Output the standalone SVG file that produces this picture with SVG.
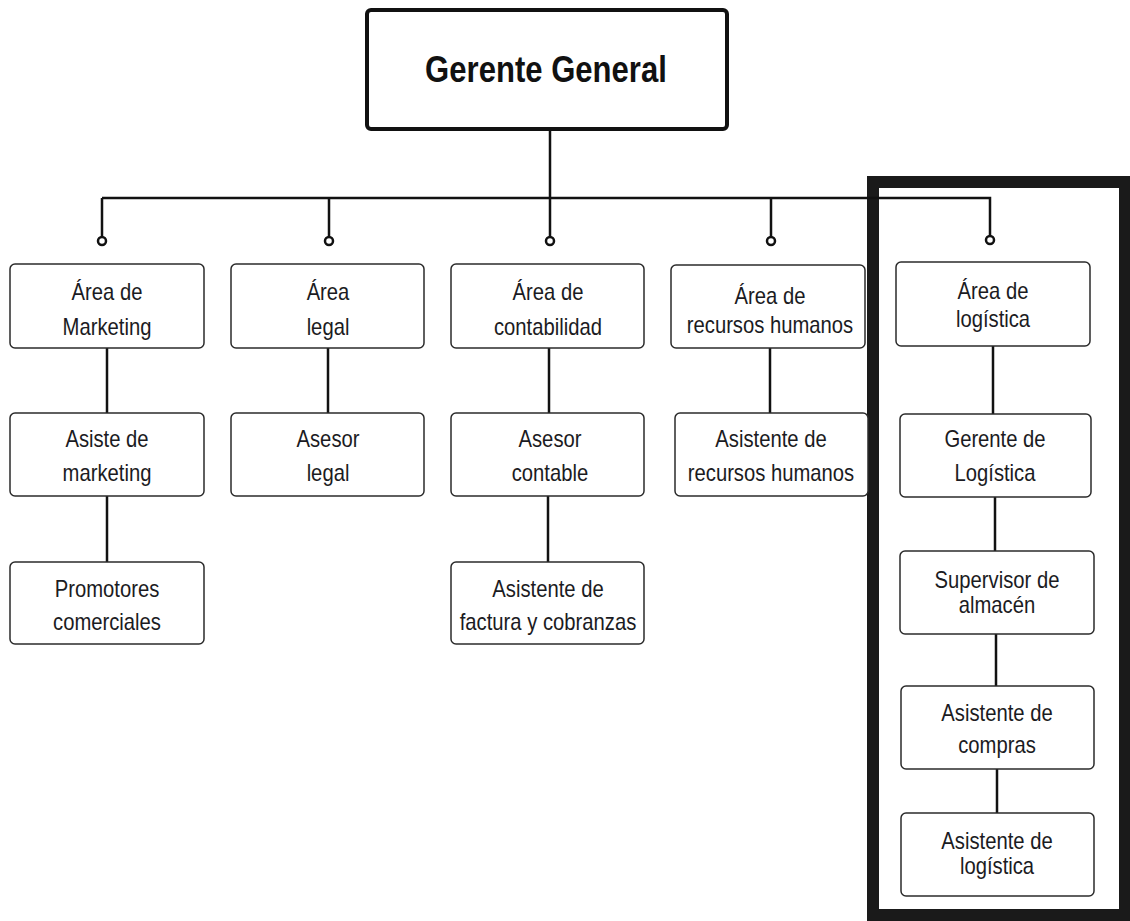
<svg xmlns="http://www.w3.org/2000/svg" width="1130" height="921" viewBox="0 0 1130 921">
<style>
.box{fill:#fff;stroke:#2b2b2b;stroke-width:1.5}
.top{fill:#fff;stroke:#111;stroke-width:4}
.ln{stroke:#111;stroke-width:2.5;fill:none}
.dot{fill:#fff;stroke:#111;stroke-width:2.5}
.t{font-family:"Liberation Sans",Arial,sans-serif;font-size:23px;fill:#1b1b22;text-anchor:middle}
.tt{font-family:"Liberation Sans",Arial,sans-serif;font-size:37px;font-weight:bold;fill:#111;text-anchor:middle}
</style>
<rect x="0" y="0" width="1130" height="921" fill="#fff"/>
<rect x="873" y="182" width="252" height="733" fill="none" stroke="#1a1a1a" stroke-width="12"/>
<g id="connectors">
<path class="ln" d="M550 129 V237 M102 198 H990 V237 M102 198 V237 M329 198 V237 M771 198 V237"/>
<path class="ln" d="M107 348 V413 M107 496 V562 M328 348 V413 M549 348 V413 M548 496 V562 M770 348 V413 M993 346 V414 M995 497 V551 M996 634 V686 M997 769 V813"/>
<circle class="dot" cx="102" cy="241" r="4"/>
<circle class="dot" cx="329" cy="241" r="4"/>
<circle class="dot" cx="550" cy="241" r="4"/>
<circle class="dot" cx="771" cy="241" r="4"/>
<circle class="dot" cx="990" cy="240" r="4"/>
</g>
<g id="gerente-general">
<rect class="top" x="367" y="10" width="360" height="119" rx="4"/>
<text class="tt" transform="matrix(0.84 0 0 1 546 0)" y="82">Gerente General</text>
</g>
<g id="area-marketing">
<rect class="box" x="10" y="264" width="194" height="84" rx="5"/>
<text class="t" transform="matrix(0.88 0 0 1 107 0)"><tspan x="0" y="300">Área de</tspan><tspan x="0" y="335">Marketing</tspan></text>
</g>
<g id="area-legal">
<rect class="box" x="231" y="264" width="193" height="84" rx="5"/>
<text class="t" transform="matrix(0.88 0 0 1 328 0)"><tspan x="0" y="300">Área</tspan><tspan x="0" y="335">legal</tspan></text>
</g>
<g id="area-contabilidad">
<rect class="box" x="451" y="264" width="193" height="84" rx="5"/>
<text class="t" transform="matrix(0.88 0 0 1 548 0)"><tspan x="0" y="300">Área de</tspan><tspan x="0" y="335">contabilidad</tspan></text>
</g>
<g id="area-rrhh">
<rect class="box" x="671" y="265" width="194" height="83" rx="5"/>
<text class="t" transform="matrix(0.88 0 0 1 770 0)"><tspan x="0" y="304">Área de</tspan><tspan x="0" y="333">recursos humanos</tspan></text>
</g>
<g id="area-logistica">
<rect class="box" x="896" y="262" width="194" height="84" rx="5"/>
<text class="t" transform="matrix(0.88 0 0 1 993 0)"><tspan x="0" y="299">Área de</tspan><tspan x="0" y="327">logística</tspan></text>
</g>
<g id="asiste-marketing">
<rect class="box" x="10" y="413" width="194" height="83" rx="5"/>
<text class="t" transform="matrix(0.88 0 0 1 107 0)"><tspan x="0" y="447">Asiste de</tspan><tspan x="0" y="481">marketing</tspan></text>
</g>
<g id="asesor-legal">
<rect class="box" x="231" y="413" width="193" height="83" rx="5"/>
<text class="t" transform="matrix(0.88 0 0 1 328 0)"><tspan x="0" y="447">Asesor</tspan><tspan x="0" y="481">legal</tspan></text>
</g>
<g id="asesor-contable">
<rect class="box" x="451" y="413" width="193" height="83" rx="5"/>
<text class="t" transform="matrix(0.88 0 0 1 550 0)"><tspan x="0" y="447">Asesor</tspan><tspan x="0" y="481">contable</tspan></text>
</g>
<g id="asistente-rrhh">
<rect class="box" x="675" y="413" width="193" height="83" rx="5"/>
<text class="t" transform="matrix(0.88 0 0 1 771 0)"><tspan x="0" y="447">Asistente de</tspan><tspan x="0" y="481">recursos humanos</tspan></text>
</g>
<g id="gerente-logistica">
<rect class="box" x="900" y="414" width="191" height="83" rx="5"/>
<text class="t" transform="matrix(0.88 0 0 1 995 0)"><tspan x="0" y="447">Gerente de</tspan><tspan x="0" y="481">Logística</tspan></text>
</g>
<g id="promotores">
<rect class="box" x="10" y="562" width="194" height="82" rx="5"/>
<text class="t" transform="matrix(0.88 0 0 1 107 0)"><tspan x="0" y="597">Promotores</tspan><tspan x="0" y="630">comerciales</tspan></text>
</g>
<g id="asistente-factura">
<rect class="box" x="451" y="562" width="193" height="82" rx="5"/>
<text class="t" transform="matrix(0.88 0 0 1 548 0)"><tspan x="0" y="597">Asistente de</tspan><tspan x="0" y="630">factura y cobranzas</tspan></text>
</g>
<g id="supervisor-almacen">
<rect class="box" x="900" y="551" width="194" height="83" rx="5"/>
<text class="t" transform="matrix(0.88 0 0 1 997 0)"><tspan x="0" y="588">Supervisor de</tspan><tspan x="0" y="613">almacén</tspan></text>
</g>
<g id="asistente-compras">
<rect class="box" x="901" y="686" width="193" height="83" rx="5"/>
<text class="t" transform="matrix(0.88 0 0 1 997 0)"><tspan x="0" y="721">Asistente de</tspan><tspan x="0" y="753">compras</tspan></text>
</g>
<g id="asistente-logistica">
<rect class="box" x="901" y="813" width="193" height="83" rx="5"/>
<text class="t" transform="matrix(0.88 0 0 1 997 0)"><tspan x="0" y="849">Asistente de</tspan><tspan x="0" y="874">logística</tspan></text>
</g>
</svg>
